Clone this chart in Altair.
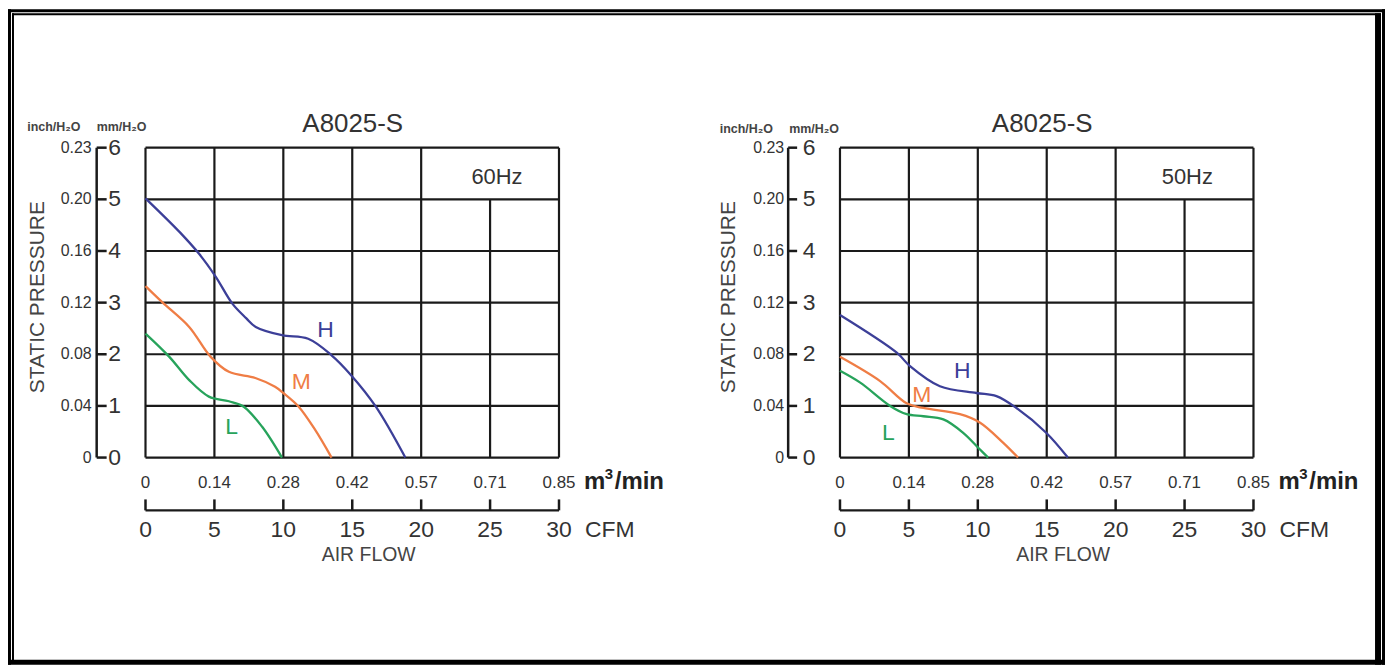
import altair as alt
import pandas as pd

FONT = "Liberation Sans"
TXT = "#333333"
LINE = "#1a1a1a"

# ---------------- data ----------------
cfm_ticks = [0, 5, 10, 15, 20, 25, 30]
cfm_labels = ["0", "5", "10", "15", "20", "25", "30"]
m3_labels = ["0", "0.14", "0.28", "0.42", "0.57", "0.71", "0.85"]
mm_ticks = [0, 1, 2, 3, 4, 5, 6]
mm_labels = ["0", "1", "2", "3", "4", "5", "6"]
inch_labels = ["0", "0.04", "0.08", "0.12", "0.16", "0.20", "0.23"]
grid_top = [6, 6, 6, 6, 6, 5, 6]   # vertical grid line heights (box for Hz label)

# 60 Hz curves (CFM, mmH2O)
h60_x = [0, 2.5, 3.9, 5.1, 6.3, 7.3, 8.0, 9.9, 11.8, 13.5, 14.9, 16.7, 18.85]
h60_y = [5.02, 4.36, 3.94, 3.5, 2.98, 2.7, 2.53, 2.37, 2.3, 1.98, 1.6, 0.99, 0]
m60_x = [0, 1.25, 3.17, 4.73, 6.05, 7.97, 9.4, 10.0, 11.1, 12.3, 13.5]
m60_y = [3.32, 3.0, 2.53, 1.95, 1.66, 1.54, 1.37, 1.25, 0.99, 0.54, 0]
l60_x = [0, 1.73, 3.17, 4.6, 6.05, 7.1, 8.45, 9.9]
l60_y = [2.4, 1.95, 1.5, 1.18, 1.09, 0.99, 0.6, 0]

# 50 Hz curves
h50_x = [0, 4.12, 5.08, 7.25, 9.9, 11.35, 12.8, 14.96, 16.53]
h50_y = [2.76, 2.03, 1.77, 1.38, 1.25, 1.19, 0.96, 0.48, 0]
m50_x = [0, 2.91, 4.84, 6.05, 8.7, 10.14, 11.83, 12.92]
m50_y = [1.95, 1.48, 1.05, 0.96, 0.84, 0.68, 0.29, 0]
l50_x = [0, 1.47, 3.64, 4.84, 6.05, 7.5, 8.94, 10.14, 10.75]
l50_y = [1.68, 1.45, 1.0, 0.84, 0.8, 0.74, 0.48, 0.16, 0]

series = ["H", "M", "L"]
line_colors = ["#3c3f98", "#ef7d45", "#27a35b"]
label_colors = ["#3f48a8", "#e0483c", "#2fa55e"]
lab60_x = [13.06, 11.3, 6.24]
lab60_y = [2.46, 1.46, 0.585]
lab50_x = [8.87, 5.93, 3.52]
lab50_y = [1.68, 1.22, 0.48]

W, H = 415, 311
XS = alt.Scale(domain=[0, 30], nice=False, zero=False)
YS = alt.Scale(domain=[0, 6], nice=False, zero=False)


def X(f):
    return alt.X(f, scale=XS, axis=None)


def Y(f):
    return alt.Y(f, scale=YS, axis=None)


def txt(text, x, y, size, align="center", baseline="middle", angle=0,
        weight="normal", color=TXT):
    return alt.Chart(pd.DataFrame({"t": [text]})).mark_text(
        align=align, baseline=baseline, fontSize=size, font=FONT,
        fontWeight=weight, color=color, angle=angle
    ).encode(x=alt.value(x), y=alt.value(y), text="t:N")


def band(x1, x2, y1, y2):
    return alt.Chart(pd.DataFrame({"a": [0]})).mark_rect(color="black").encode(
        x=alt.value(x1), x2=alt.value(x2), y=alt.value(y1), y2=alt.value(y2))


def panel(curves, lab_x, lab_y, hz, hz_x, hz_y, p, frame=False):
    vgrid = pd.DataFrame({"x": cfm_ticks, "y0": [0] * 7, "y1": grid_top})
    hgrid = pd.DataFrame({"y": mm_ticks, "x0": [0] * 7, "x1": [30] * 7})
    rows = []
    for s, (xs, ys) in zip(series, curves):
        for i, (a, b) in enumerate(zip(xs, ys)):
            rows.append({"series": s, "cfm": a, "mm": b, "i": i})
    cdf = pd.DataFrame(rows)
    ldf = pd.DataFrame({"series": series, "cfm": lab_x, "mm": lab_y})
    yax = pd.DataFrame({"mm": mm_ticks, "mml": mm_labels, "inch": inch_labels})
    xax = pd.DataFrame({"cfm": cfm_ticks, "cl": cfm_labels, "m3": m3_labels})
    color = alt.Color("series:N", scale=alt.Scale(domain=series, range=line_colors),
                      legend=None)
    lcolor = alt.Color("series:N", scale=alt.Scale(domain=series, range=label_colors),
                       legend=None)

    layers = []
    if frame:
        layers += [
            band(-138, 1244, -139, -136),   # top outer
            band(-138, -135, -139, 519),    # left outer
            band(-134, 1240, -135, -133),   # top inner
            band(-134, -132, -135, 515),    # left inner
            band(1234, 1240, -135, 519),    # right inner (thick)
            band(1241, 1244, -139, 519),    # right outer (thin)
            band(-138, 1244, 514, 519),     # bottom
        ]
    layers += [
        alt.Chart(vgrid).mark_rule(color=LINE, strokeWidth=2.2).encode(
            x=X("x:Q"), y=Y("y0:Q"), y2="y1:Q"),
        alt.Chart(hgrid).mark_rule(color=LINE, strokeWidth=2.2).encode(
            y=Y("y:Q"), x=X("x0:Q"), x2="x1:Q"),
        alt.Chart(cdf).mark_line(interpolate="catmull-rom", strokeWidth=2.3).encode(
            x=X("cfm:Q"), y=Y("mm:Q"), color=color, detail="series:N", order="i:Q"),
        alt.Chart(ldf).mark_text(fontSize=23, font=FONT).encode(
            x=X("cfm:Q"), y=Y("mm:Q"), text="series:N", color=lcolor),
        alt.Chart(pd.DataFrame({"t": [hz], "cfm": [hz_x], "mm": [hz_y]})).mark_text(
            fontSize=22, font=FONT, color=TXT).encode(
            x=X("cfm:Q"), y=Y("mm:Q"), text="t:N"),
        # left (pressure) axis
        alt.Chart(pd.DataFrame({"y0": [0], "y1": [6]})).mark_rule(
            color=LINE, strokeWidth=2.5).encode(
            x=alt.value(p["ax"]), y=Y("y0:Q"), y2="y1:Q"),
        alt.Chart(yax).mark_rule(color=LINE, strokeWidth=2.5).encode(
            x=alt.value(p["ax"]), x2=alt.value(p["ax"] + p["tl"]), y=Y("mm:Q")),
        alt.Chart(yax).mark_text(fontSize=23, font=FONT, color=TXT).encode(
            x=alt.value(p["mmx"]), y=Y("mm:Q"), text="mml:N"),
        alt.Chart(yax).mark_text(fontSize=16, font=FONT, color=TXT, align="right").encode(
            x=alt.value(p["inx"]), y=Y("mm:Q"), text="inch:N"),
        # bottom (flow) axis
        alt.Chart(pd.DataFrame({"x0": [0], "x1": [30]})).mark_rule(
            color=LINE, strokeWidth=2.5).encode(
            x=X("x0:Q"), x2="x1:Q", y=alt.value(364)),
        alt.Chart(xax).mark_rule(color=LINE, strokeWidth=2.5).encode(
            x=X("cfm:Q"), y=alt.value(353), y2=alt.value(364)),
        alt.Chart(xax).mark_text(fontSize=17, font=FONT, color=TXT).encode(
            x=X("cfm:Q"), y=alt.value(337), text="m3:N"),
        alt.Chart(xax).mark_text(fontSize=23, font=FONT, color=TXT).encode(
            x=X("cfm:Q"), y=alt.value(384), text="cl:N"),
        # static texts
        txt("A8025-S", p["tx"], -24, 26),
        txt("inch/H\u2082O", p["hi"], p["hy"], 12.5, weight="bold", color="#444"),
        txt("mm/H\u2082O", p["hm"], p["hy"], 12.5, weight="bold", color="#444"),
        txt("STATIC PRESSURE", p["sp"], 150, 21, angle=270, color="#444"),
        txt("AIR FLOW", 224, 409, 19.5, color="#444"),
        txt("m", 440, 343, 24, align="left", baseline="alphabetic",
            weight="bold", color="#222"),
        txt("3", 461, 333, 15, align="left", baseline="alphabetic",
            weight="bold", color="#222"),
        txt("/min", 471, 343, 24, align="left", baseline="alphabetic",
            weight="bold", color="#222"),
        txt("CFM", 441, 384, 23, align="left", color="#333"),
    ]
    return alt.layer(*layers).properties(width=W, height=H)


P1 = dict(ax=-49, tl=10, inx=-54, mmx=-31, sp=-108, hi=-92, hm=-24, hy=-21, tx=208)
P2 = dict(ax=-52, tl=9, inx=-56, mmx=-31, sp=-111, hi=-94, hm=-26, hy=-19, tx=203)

left = panel([(h60_x, h60_y), (m60_x, m60_y), (l60_x, l60_y)],
             lab60_x, lab60_y, "60Hz", 25.5, 5.44, P1, frame=True)
right = panel([(h50_x, h50_y), (m50_x, m50_y), (l50_x, l50_y)],
              lab50_x, lab50_y, "50Hz", 25.2, 5.44, P2)

chart = alt.hconcat(left, right, spacing=282, bounds="flush", padding=0,
                    background="white").configure_view(strokeWidth=0)

chart.save("out.html", embed_options={"renderer": "svg", "actions": False})
